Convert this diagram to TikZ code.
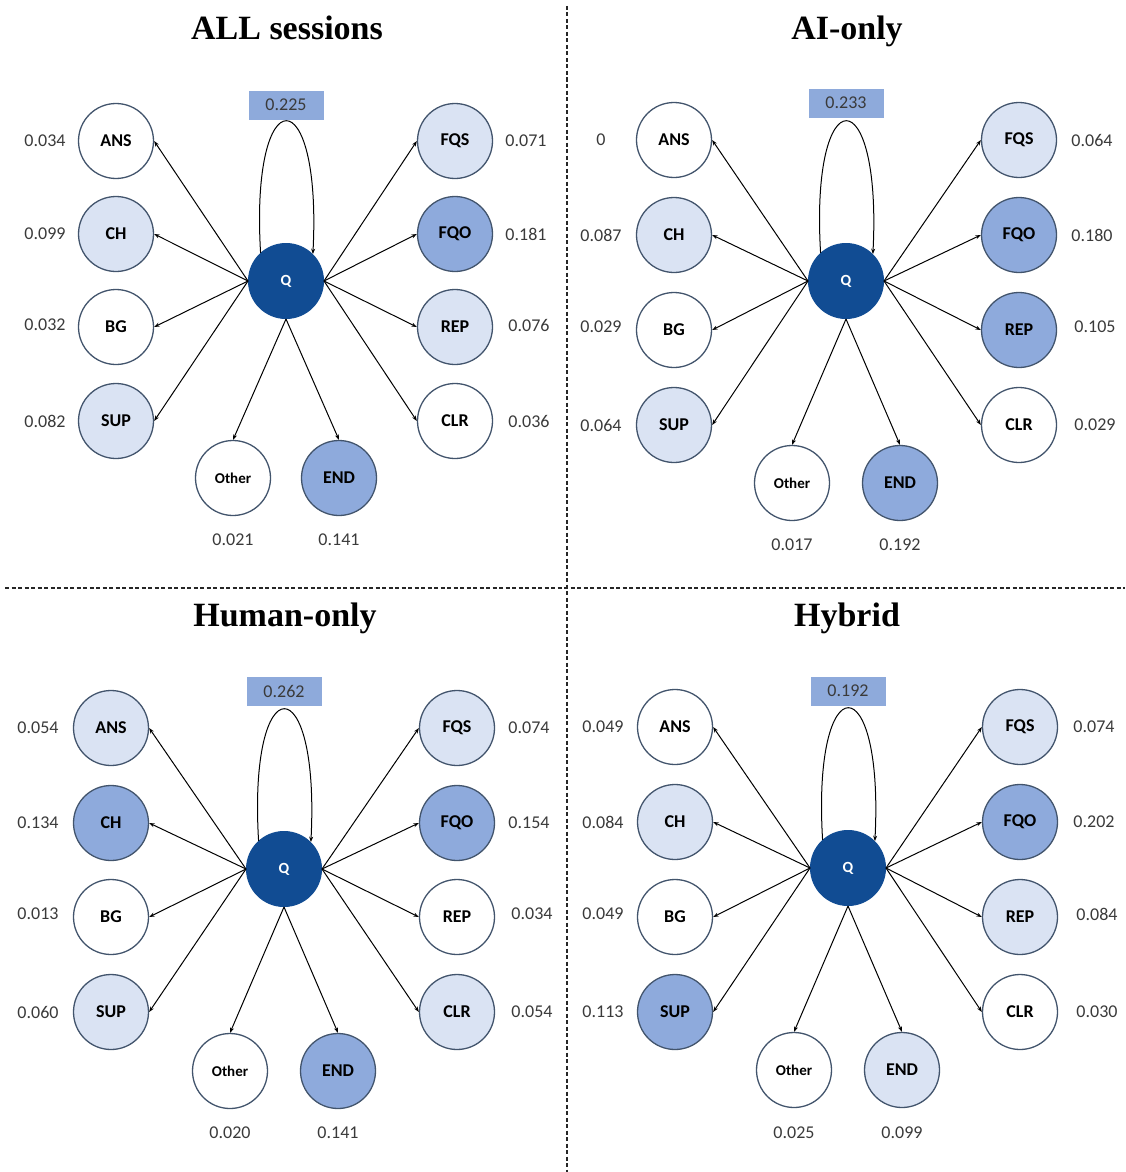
\documentclass[tikz,border=0pt]{standalone}
\usepackage{fontspec}
\setmainfont{Carlito}
\newfontfamily\titlefont{Liberation Serif}
\usetikzlibrary{arrows.meta,calc}
\definecolor{nodeedge}{HTML}{42546C}
\definecolor{lightblue}{HTML}{DAE3F3}
\definecolor{midblue}{HTML}{8EAADC}
\definecolor{qblue}{HTML}{114C93}
\definecolor{boxblue}{HTML}{8EAADB}
\definecolor{valgray}{HTML}{3A3A3A}
\tikzset{
  st/.style={circle, draw=nodeedge, line width=1.3pt, minimum size=75pt, inner sep=0pt,
    font=\bfseries\fontsize{18}{18}\selectfont},
  wn/.style={st, fill=white},
  ln/.style={st, fill=lightblue},
  mn/.style={st, fill=midblue},
  on/.style={st, fill=white, font=\bfseries\fontsize{15}{15}\selectfont},
  qn/.style={circle, fill=qblue, draw=qblue, line width=1pt, minimum size=75pt, inner sep=0pt,
    text=white, font=\bfseries\fontsize{15.5}{15.5}\selectfont},
  val/.style={text=valgray, inner sep=0pt, font=\fontsize{18}{18}\selectfont},
  valbox/.style={fill=boxblue, minimum width=75pt, minimum height=29pt, inner sep=0pt,
    text=valgray, font=\fontsize{18}{18}\selectfont},
  ttl/.style={inner sep=0pt, anchor=base, font=\titlefont\bfseries\fontsize{34}{34}\selectfont},
  arr/.style={-{Stealth[length=5.5pt,width=4pt]}, line width=1pt, black},
  divider/.style={dashed, dash pattern=on 4pt off 2.5pt, line width=1.1pt, black!85},
}
\newcommand\panedges[1]{%
  \foreach \n in {ANS,CH,BG,SUP} {\draw[arr] (#1Q.west) -- (#1\n.east);}
  \foreach \n in {FQS,FQO,REP,CLR} {\draw[arr] (#1Q.east) -- (#1\n.west);}
  \draw[arr] (#1Q.south) -- (#1Other.north);
  \draw[arr] (#1Q.south) -- (#1END.north);
  \draw[arr] (#1Q.132) .. controls ($(#1Q.center)+(-36,-204)$) and ($(#1Q.center)+(36,-204)$) .. (#1Q.45);
}
\begin{document}
\begin{tikzpicture}[x=1pt,y=-1pt]
\useasboundingbox (0,0) rectangle (1126,1172);
% dividers
\coordinate (vt) at (567,6);
\coordinate (vb) at (567,1172);
\coordinate (hl) at (5,588);
\coordinate (hr) at (1125,588);
\draw[divider] (vt) -- (vb);
\draw[divider] (hl) -- (hr);

% ================= Panel A: ALL sessions =================
\node[ttl] (aT) at (287,40) {ALL sessions};
\node[qn] (aQ) at (286,281) {Q};
\node[wn] (aANS) at (116,141) {ANS};
\node[ln] (aCH) at (116,234) {CH};
\node[wn] (aBG) at (116,327) {BG};
\node[ln] (aSUP) at (116,421) {SUP};
\node[ln] (aFQS) at (455,141) {FQS};
\node[mn] (aFQO) at (455,234) {FQO};
\node[ln] (aREP) at (455,327) {REP};
\node[wn] (aCLR) at (455,421) {CLR};
\node[on] (aOther) at (233,478) {Other};
\node[mn] (aEND) at (339,478) {END};
\node[valbox] (aBox) at (286,105) {0.225};
\node[val] (av1) at (45,141) {0.034};
\node[val] (av2) at (45,234) {0.099};
\node[val] (av3) at (45,325) {0.032};
\node[val] (av4) at (45,421) {0.082};
\node[val] (av5) at (526,141) {0.071};
\node[val] (av6) at (526,234) {0.181};
\node[val] (av7) at (529,325) {0.076};
\node[val] (av8) at (529,421) {0.036};
\node[val] (av9) at (233,540) {0.021};
\node[val] (av10) at (339,540) {0.141};
\panedges{a}

% ================= Panel B: AI-only =================
\node[ttl] (bT) at (847,40) {AI-only};
\node[qn] (bQ) at (846,281) {Q};
\node[wn] (bANS) at (674,140) {ANS};
\node[ln] (bCH) at (674,235) {CH};
\node[wn] (bBG) at (674,330) {BG};
\node[ln] (bSUP) at (674,425) {SUP};
\node[ln] (bFQS) at (1019,140) {FQS};
\node[mn] (bFQO) at (1019,235) {FQO};
\node[mn] (bREP) at (1019,330) {REP};
\node[wn] (bCLR) at (1019,425) {CLR};
\node[on] (bOther) at (792,483) {Other};
\node[mn] (bEND) at (900,483) {END};
\node[valbox] (bBox) at (846,103) {0.233};
\node[val] (bv1) at (601,140) {0};
\node[val] (bv2) at (601,235) {0.087};
\node[val] (bv3) at (601,327) {0.029};
\node[val] (bv4) at (601,425) {0.064};
\node[val] (bv5) at (1092,140) {0.064};
\node[val] (bv6) at (1092,235) {0.180};
\node[val] (bv7) at (1095,327) {0.105};
\node[val] (bv8) at (1095,425) {0.029};
\node[val] (bv9) at (792,545) {0.017};
\node[val] (bv10) at (900,545) {0.192};
\panedges{b}

% ================= Panel C: Human-only =================
\node[ttl] (cT) at (285,626) {Human-only};
\node[qn] (cQ) at (284,869) {Q};
\node[ln] (cANS) at (111,728) {ANS};
\node[mn] (cCH) at (111,823) {CH};
\node[wn] (cBG) at (111,917) {BG};
\node[ln] (cSUP) at (111,1012) {SUP};
\node[ln] (cFQS) at (457,728) {FQS};
\node[mn] (cFQO) at (457,823) {FQO};
\node[wn] (cREP) at (457,917) {REP};
\node[ln] (cCLR) at (457,1012) {CLR};
\node[on] (cOther) at (230,1071) {Other};
\node[mn] (cEND) at (338,1071) {END};
\node[valbox] (cBox) at (284,691) {0.262};
\node[val] (cv1) at (38,728) {0.054};
\node[val] (cv2) at (38,823) {0.134};
\node[val] (cv3) at (38,914) {0.013};
\node[val] (cv4) at (38,1012) {0.060};
\node[val] (cv5) at (529,728) {0.074};
\node[val] (cv6) at (529,823) {0.154};
\node[val] (cv7) at (532,914) {0.034};
\node[val] (cv8) at (532,1012) {0.054};
\node[val] (cv9) at (230,1133) {0.020};
\node[val] (cv10) at (338,1133) {0.141};
\panedges{c}

% ================= Panel D: Hybrid =================
\node[ttl] (dT) at (847,626) {Hybrid};
\node[qn] (dQ) at (848,868) {Q};
\node[wn] (dANS) at (675,727) {ANS};
\node[ln] (dCH) at (675,822) {CH};
\node[wn] (dBG) at (675,917) {BG};
\node[mn] (dSUP) at (675,1012) {SUP};
\node[ln] (dFQS) at (1020,727) {FQS};
\node[mn] (dFQO) at (1020,822) {FQO};
\node[ln] (dREP) at (1020,917) {REP};
\node[wn] (dCLR) at (1020,1012) {CLR};
\node[on] (dOther) at (794,1070) {Other};
\node[ln] (dEND) at (902,1070) {END};
\node[valbox] (dBox) at (848,691) {0.192};
\node[val] (dv1) at (603,727) {0.049};
\node[val] (dv2) at (603,822) {0.084};
\node[val] (dv3) at (603,914) {0.049};
\node[val] (dv4) at (603,1012) {0.113};
\node[val] (dv5) at (1094,727) {0.074};
\node[val] (dv6) at (1094,822) {0.202};
\node[val] (dv7) at (1097,914) {0.084};
\node[val] (dv8) at (1097,1012) {0.030};
\node[val] (dv9) at (794,1133) {0.025};
\node[val] (dv10) at (902,1133) {0.099};
\panedges{d}
\end{tikzpicture}
\end{document}
